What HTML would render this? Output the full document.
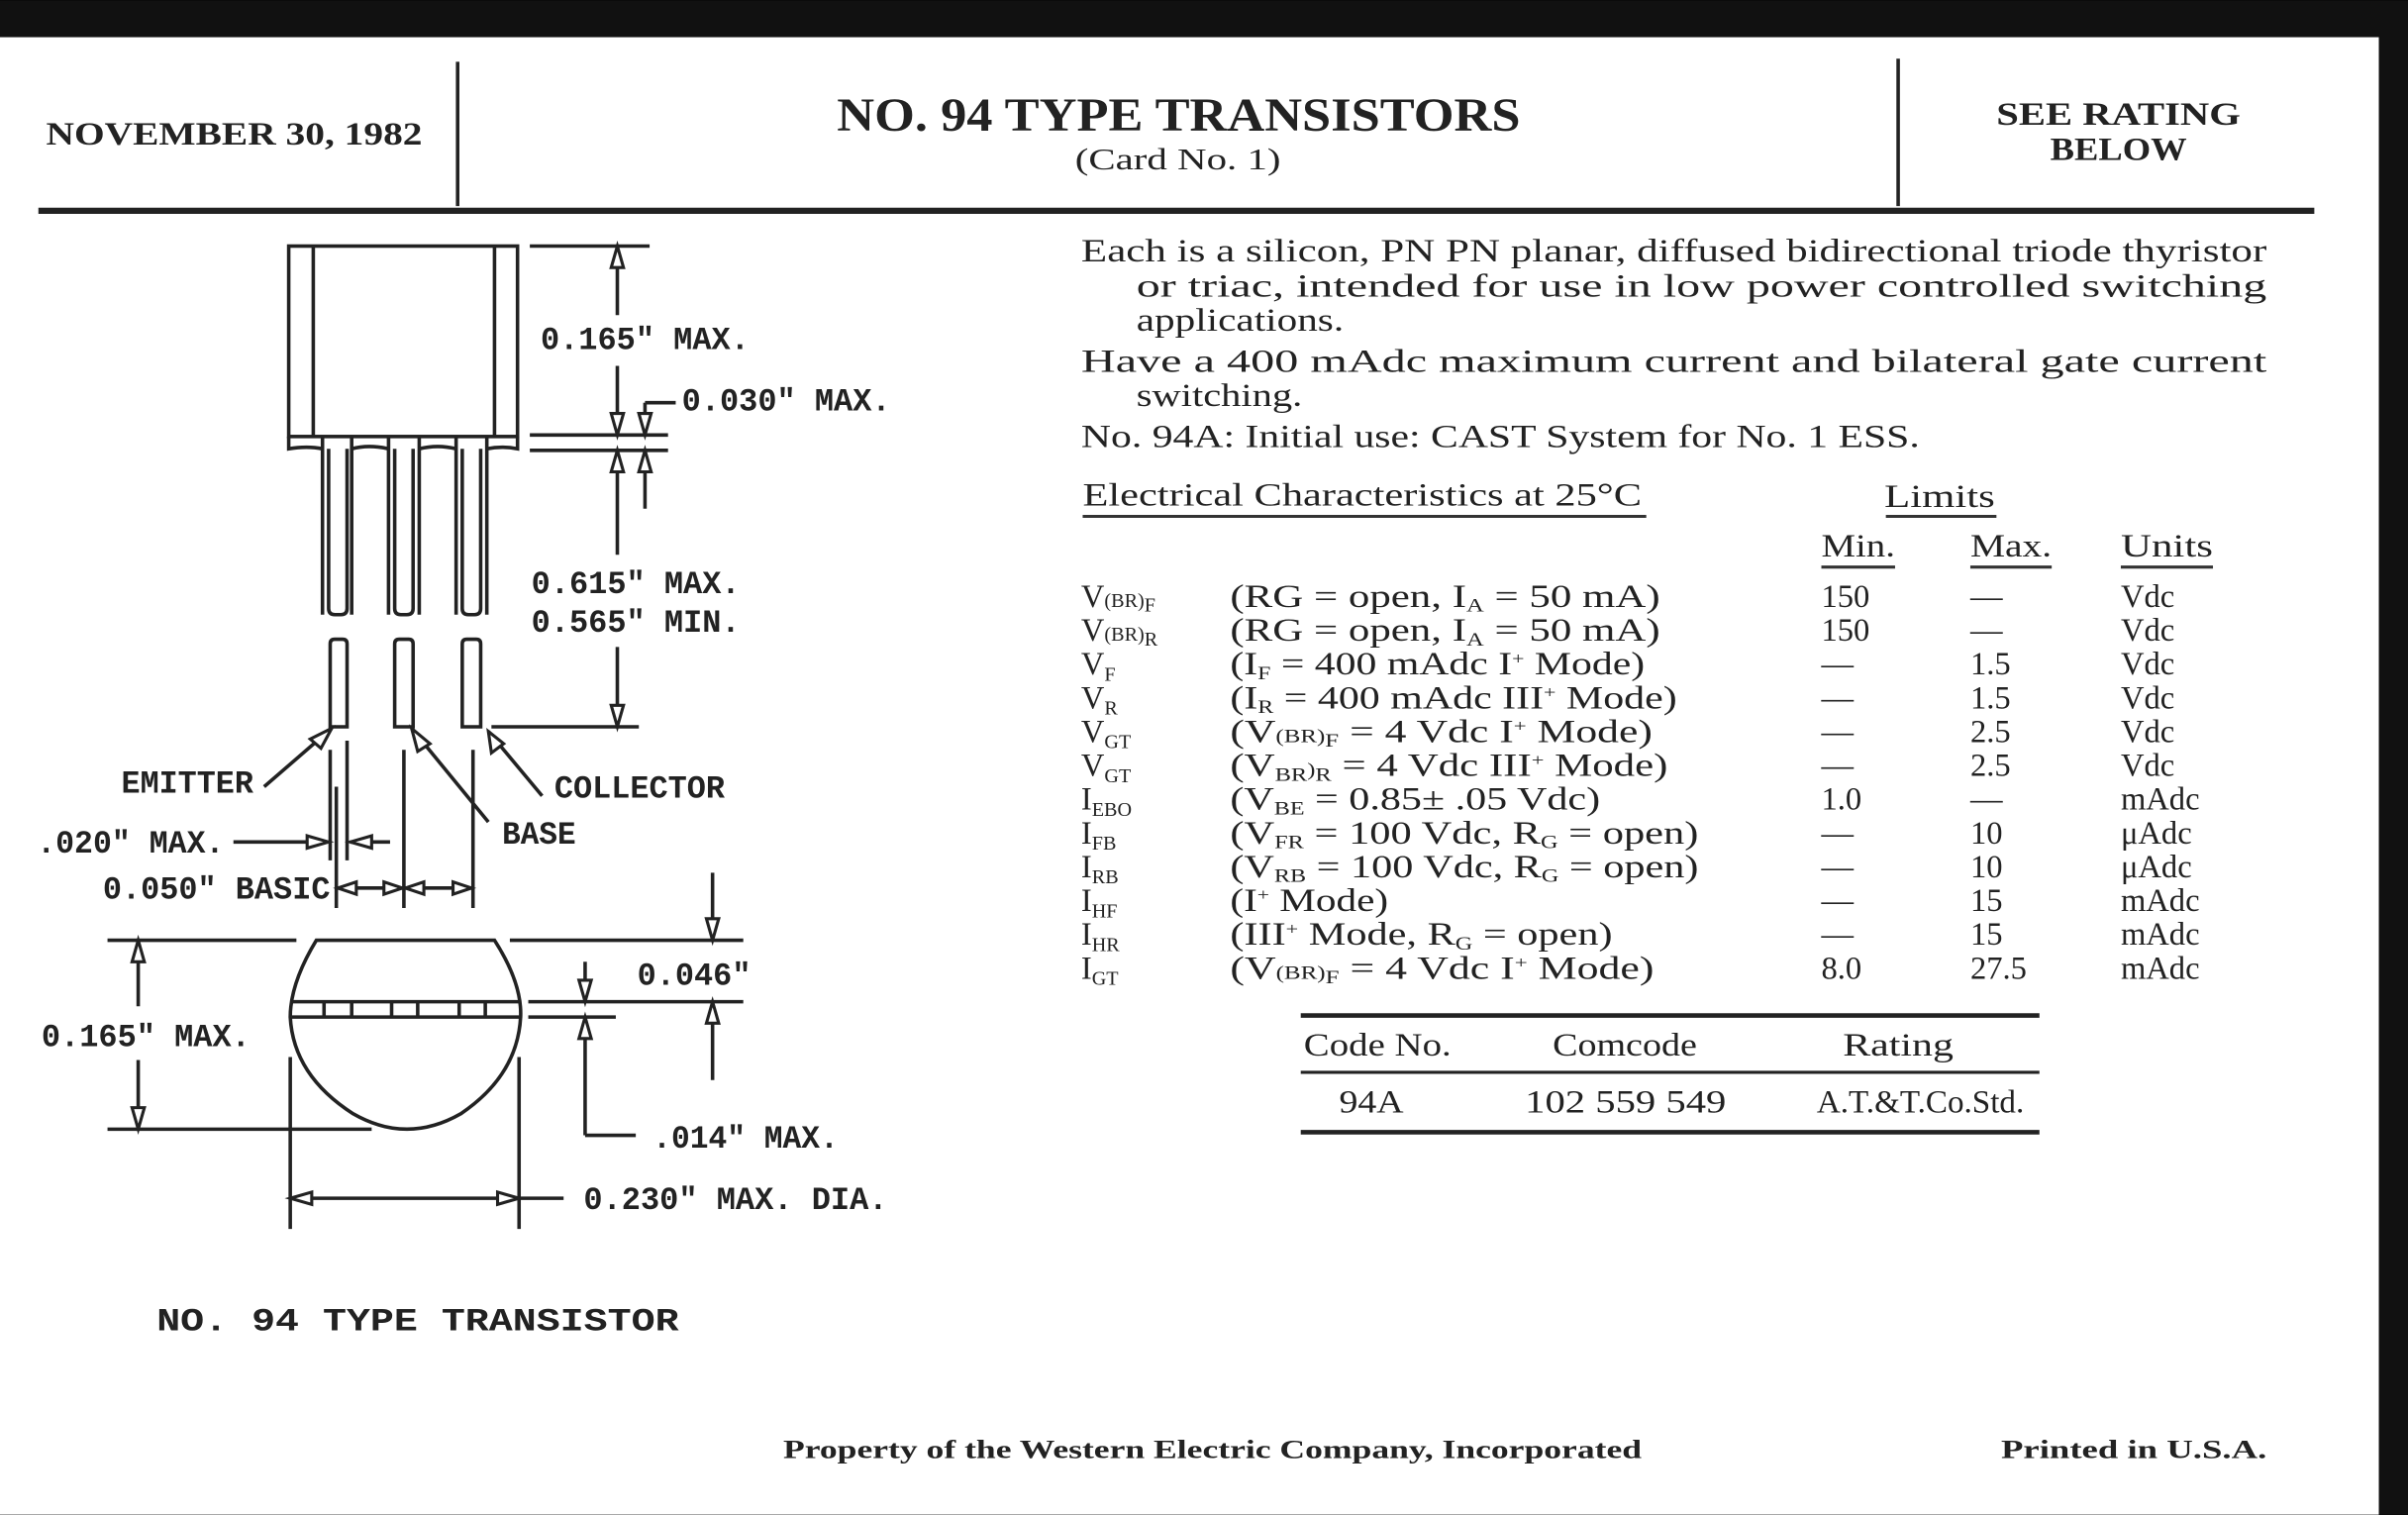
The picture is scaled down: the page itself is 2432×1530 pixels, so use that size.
<!DOCTYPE html>
<html><head><meta charset="utf-8"><style>
html,body{margin:0;padding:0;background:#000;}
svg{display:block;}
.s{font-family:"Liberation Serif",serif;fill:#222;}
.m{font-family:"Liberation Mono",monospace;fill:#222;font-size:21px;font-weight:bold;}
.ln{stroke:#222;stroke-width:2.3;fill:none;}
.ah{fill:#fff;stroke:#222;stroke-width:2;}
</style></head><body>
<svg width="2432" height="1530" viewBox="0 0 1568 986" xmlns="http://www.w3.org/2000/svg">
<rect x="0" y="0" width="1568" height="986" fill="#111"/>
<rect x="0" y="24" width="1549" height="962" fill="#fff"/>

<line x1="298" y1="40" x2="298" y2="134" class="ln" stroke-width="3"/>
<line x1="1236" y1="38" x2="1236" y2="134" class="ln" stroke-width="3"/>
<line x1="25" y1="137" x2="1507" y2="137" stroke="#222" stroke-width="4"/>
<text x="30" y="94" class="s" font-size="21" font-weight="bold" textLength="245" lengthAdjust="spacingAndGlyphs">NOVEMBER 30, 1982</text>
<text x="545" y="85" class="s" font-size="31" font-weight="bold" textLength="445" lengthAdjust="spacingAndGlyphs">NO. 94 TYPE TRANSISTORS</text>
<text x="700" y="110" class="s" font-size="20" textLength="134" lengthAdjust="spacingAndGlyphs">(Card No. 1)</text>
<text x="1300" y="81" class="s" font-size="21" font-weight="bold" textLength="159" lengthAdjust="spacingAndGlyphs">SEE RATING</text>
<text x="1335" y="104" class="s" font-size="21" font-weight="bold" textLength="89" lengthAdjust="spacingAndGlyphs">BELOW</text>

<g class="s" font-size="21">
<text x="704" y="170" textLength="772" lengthAdjust="spacingAndGlyphs">Each is a silicon, PN PN planar, diffused bidirectional triode thyristor</text>
<text x="740" y="193" textLength="736" lengthAdjust="spacingAndGlyphs">or triac, intended for use in low power controlled switching</text>
<text x="740" y="215" textLength="135" lengthAdjust="spacingAndGlyphs">applications.</text>
<text x="704" y="242" textLength="772" lengthAdjust="spacingAndGlyphs">Have a 400 mAdc maximum current and bilateral gate current</text>
<text x="740" y="264" textLength="108" lengthAdjust="spacingAndGlyphs">switching.</text>
<text x="704" y="291" textLength="546" lengthAdjust="spacingAndGlyphs">No. 94A: Initial use: CAST System for No. 1 ESS.</text>
<text x="705" y="329" textLength="364" lengthAdjust="spacingAndGlyphs">Electrical Characteristics at 25°C</text>
<text x="1227" y="330" textLength="72" lengthAdjust="spacingAndGlyphs">Limits</text>
<text x="1186" y="362" textLength="48" lengthAdjust="spacingAndGlyphs">Min.</text>
<text x="1283" y="362" textLength="53" lengthAdjust="spacingAndGlyphs">Max.</text>
<text x="1381" y="362" textLength="60" lengthAdjust="spacingAndGlyphs">Units</text>
</g>
<g stroke="#333" stroke-width="2">
<line x1="705" y1="336" x2="1072" y2="336"/>
<line x1="1228" y1="336" x2="1300" y2="336"/>
<line x1="1186" y1="369" x2="1234" y2="369"/>
<line x1="1283" y1="369" x2="1336" y2="369"/>
<line x1="1381" y1="369" x2="1441" y2="369"/>
</g>

<g class="s" font-size="21">
<text x="704" y="395">V<tspan font-size="13">(BR)</tspan><tspan font-size="13" dy="3">F</tspan></text>
<text x="801" y="395" textLength="280" lengthAdjust="spacingAndGlyphs">(RG = open, I<tspan font-size="12" dy="3">A</tspan><tspan dy="-3"> = 50 mA)</tspan></text>
<text x="1186" y="395">150</text><text x="1283" y="395">—</text><text x="1381" y="395">Vdc</text>

<text x="704" y="417">V<tspan font-size="13">(BR)</tspan><tspan font-size="13" dy="3">R</tspan></text>
<text x="801" y="417" textLength="280" lengthAdjust="spacingAndGlyphs">(RG = open, I<tspan font-size="12" dy="3">A</tspan><tspan dy="-3"> = 50 mA)</tspan></text>
<text x="1186" y="417">150</text><text x="1283" y="417">—</text><text x="1381" y="417">Vdc</text>

<text x="704" y="439">V<tspan font-size="13" dy="4">F</tspan></text>
<text x="801" y="439" textLength="270" lengthAdjust="spacingAndGlyphs">(I<tspan font-size="12" dy="3">F</tspan><tspan dy="-3"> = 400 mAdc I</tspan><tspan font-size="11" dy="-7">+</tspan><tspan dy="7"> Mode)</tspan></text>
<text x="1186" y="439">—</text><text x="1283" y="439">1.5</text><text x="1381" y="439">Vdc</text>

<text x="704" y="461">V<tspan font-size="13" dy="4">R</tspan></text>
<text x="801" y="461" textLength="291" lengthAdjust="spacingAndGlyphs">(I<tspan font-size="12" dy="3">R</tspan><tspan dy="-3"> = 400 mAdc III</tspan><tspan font-size="11" dy="-7">+</tspan><tspan dy="7"> Mode)</tspan></text>
<text x="1186" y="461">—</text><text x="1283" y="461">1.5</text><text x="1381" y="461">Vdc</text>

<text x="704" y="483">V<tspan font-size="13" dy="4">GT</tspan></text>
<text x="801" y="483" textLength="275" lengthAdjust="spacingAndGlyphs">(V<tspan font-size="12">(BR)</tspan><tspan font-size="12" dy="3">F</tspan><tspan dy="-3"> = 4 Vdc I</tspan><tspan font-size="11" dy="-7">+</tspan><tspan dy="7"> Mode)</tspan></text>
<text x="1186" y="483">—</text><text x="1283" y="483">2.5</text><text x="1381" y="483">Vdc</text>

<text x="704" y="505">V<tspan font-size="13" dy="4">GT</tspan></text>
<text x="801" y="505" textLength="285" lengthAdjust="spacingAndGlyphs">(V<tspan font-size="12" dy="3">BR</tspan><tspan font-size="12" dy="-3">)</tspan><tspan font-size="12" dy="3">R</tspan><tspan dy="-3"> = 4 Vdc III</tspan><tspan font-size="11" dy="-7">+</tspan><tspan dy="7"> Mode)</tspan></text>
<text x="1186" y="505">—</text><text x="1283" y="505">2.5</text><text x="1381" y="505">Vdc</text>

<text x="704" y="527">I<tspan font-size="13" dy="4">EBO</tspan></text>
<text x="801" y="527" textLength="241" lengthAdjust="spacingAndGlyphs">(V<tspan font-size="12" dy="3">BE</tspan><tspan dy="-3"> = 0.85± .05 Vdc)</tspan></text>
<text x="1186" y="527">1.0</text><text x="1283" y="527">—</text><text x="1381" y="527">mAdc</text>

<text x="704" y="549">I<tspan font-size="13" dy="4">FB</tspan></text>
<text x="801" y="549" textLength="305" lengthAdjust="spacingAndGlyphs">(V<tspan font-size="12" dy="3">FR</tspan><tspan dy="-3"> = 100 Vdc, R</tspan><tspan font-size="12" dy="3">G</tspan><tspan dy="-3"> = open)</tspan></text>
<text x="1186" y="549">—</text><text x="1283" y="549">10</text><text x="1381" y="549">μAdc</text>

<text x="704" y="571">I<tspan font-size="13" dy="4">RB</tspan></text>
<text x="801" y="571" textLength="305" lengthAdjust="spacingAndGlyphs">(V<tspan font-size="12" dy="3">RB</tspan><tspan dy="-3"> = 100 Vdc, R</tspan><tspan font-size="12" dy="3">G</tspan><tspan dy="-3"> = open)</tspan></text>
<text x="1186" y="571">—</text><text x="1283" y="571">10</text><text x="1381" y="571">μAdc</text>

<text x="704" y="593">I<tspan font-size="13" dy="4">HF</tspan></text>
<text x="801" y="593" textLength="103" lengthAdjust="spacingAndGlyphs">(I<tspan font-size="11" dy="-7">+</tspan><tspan dy="7"> Mode)</tspan></text>
<text x="1186" y="593">—</text><text x="1283" y="593">15</text><text x="1381" y="593">mAdc</text>

<text x="704" y="615">I<tspan font-size="13" dy="4">HR</tspan></text>
<text x="801" y="615" textLength="249" lengthAdjust="spacingAndGlyphs">(III<tspan font-size="11" dy="-7">+</tspan><tspan dy="7"> Mode, R</tspan><tspan font-size="12" dy="3">G</tspan><tspan dy="-3"> = open)</tspan></text>
<text x="1186" y="615">—</text><text x="1283" y="615">15</text><text x="1381" y="615">mAdc</text>

<text x="704" y="637">I<tspan font-size="13" dy="4">GT</tspan></text>
<text x="801" y="637" textLength="276" lengthAdjust="spacingAndGlyphs">(V<tspan font-size="12">(BR)</tspan><tspan font-size="12" dy="3">F</tspan><tspan dy="-3"> = 4 Vdc I</tspan><tspan font-size="11" dy="-7">+</tspan><tspan dy="7"> Mode)</tspan></text>
<text x="1186" y="637">8.0</text><text x="1283" y="637">27.5</text><text x="1381" y="637">mAdc</text>
</g>

<line x1="847" y1="661" x2="1328" y2="661" stroke="#222" stroke-width="3"/>
<line x1="847" y1="698" x2="1328" y2="698" stroke="#222" stroke-width="2"/>
<line x1="847" y1="737" x2="1328" y2="737" stroke="#222" stroke-width="3"/>
<g class="s" font-size="21">
<text x="849" y="687" textLength="96" lengthAdjust="spacingAndGlyphs">Code No.</text>
<text x="1011" y="687" textLength="94" lengthAdjust="spacingAndGlyphs">Comcode</text>
<text x="1200" y="687" textLength="72" lengthAdjust="spacingAndGlyphs">Rating</text>
<text x="872" y="724" textLength="42" lengthAdjust="spacingAndGlyphs">94A</text>
<text x="993" y="724" textLength="131" lengthAdjust="spacingAndGlyphs">102 559 549</text>
<text x="1183" y="724" textLength="135" lengthAdjust="spacingAndGlyphs">A.T.&amp;T.Co.Std.</text>
</g>

<text x="510" y="949" class="s" font-size="17" font-weight="bold" textLength="559" lengthAdjust="spacingAndGlyphs">Property of the Western Electric Company, Incorporated</text>
<text x="1303" y="949" class="s" font-size="17" font-weight="bold" textLength="173" lengthAdjust="spacingAndGlyphs">Printed in U.S.A.</text>
<text x="102" y="866" class="m" font-size="27" textLength="340" lengthAdjust="spacingAndGlyphs">NO. 94 TYPE TRANSISTOR</text>

<g class="ln">
<rect x="188" y="160" width="149" height="124"/>
<line x1="204" y1="160" x2="204" y2="284"/>
<line x1="322" y1="160" x2="322" y2="284"/>
<path d="M188 284 L188 292 Q200 290 210 292 M229 292 Q240 289 253 292 M273 292 Q285 289 297 292 M317 292 Q327 290 337 292 L337 284"/>
<path d="M210 284 V400 M229 284 V400"/>
<path d="M214 292 V396 Q214 400 218 400 H222 Q226 400 226 396 V292"/>
<path d="M253 284 V400 M273 284 V400"/>
<path d="M257 292 V396 Q257 400 261 400 H265 Q269 400 269 396 V292"/>
<path d="M297 284 V400 M317 284 V400"/>
<path d="M301 292 V396 Q301 400 305 400 H309 Q313 400 313 396 V292"/>
<path d="M215 473 V419 Q215 416 218 416 H223 Q226 416 226 419 V473 Z"/>
<path d="M257 473 V419 Q257 416 260 416 H266 Q269 416 269 419 V473 Z"/>
<path d="M301 473 V419 Q301 416 304 416 H310 Q313 416 313 419 V473 Z"/>
<line x1="345" y1="160" x2="423" y2="160"/>
<line x1="345" y1="283" x2="435" y2="283"/>
<line x1="345" y1="293" x2="435" y2="293"/>
<line x1="402" y1="160" x2="402" y2="205"/>
<line x1="402" y1="238" x2="402" y2="283"/>
<line x1="420" y1="283" x2="420" y2="262"/><line x1="420" y1="262" x2="440" y2="262"/>
<line x1="402" y1="293" x2="402" y2="361"/>
<line x1="420" y1="293" x2="420" y2="331"/>
<line x1="402" y1="421" x2="402" y2="473"/>
<line x1="320" y1="473" x2="416" y2="473"/>
<line x1="172" y1="512" x2="216" y2="474"/>
<line x1="318" y1="535" x2="268" y2="474"/>
<line x1="353" y1="518" x2="318" y2="476"/>
<line x1="215" y1="488" x2="215" y2="560"/>
<line x1="219" y1="512" x2="219" y2="591"/>
<line x1="226" y1="482" x2="226" y2="560"/>
<line x1="263" y1="488" x2="263" y2="591"/>
<line x1="308" y1="488" x2="308" y2="591"/>
<line x1="152" y1="548" x2="212" y2="548"/>
<line x1="228" y1="548" x2="254" y2="548"/>
<line x1="219" y1="578" x2="308" y2="578"/>
</g>
<g class="ah">
<polygon points="402,160 398,174 406,174"/>
<polygon points="402,283 398,269 406,269"/>
<polygon points="420,283 416,269 424,269"/>
<polygon points="402,293 398,307 406,307"/>
<polygon points="420,293 416,307 424,307"/>
<polygon points="402,473 398,459 406,459"/>
<polygon points="216,474 202,481 209,487"/>
<polygon points="268,474 272,489 280,484"/>
<polygon points="318,476 320,490 328,484"/>
<polygon points="214,548 200,544 200,552"/>
<polygon points="228,548 242,544 242,552"/>
<polygon points="220,578 232,574 232,582"/>
<polygon points="262,578 250,574 250,582"/>
<polygon points="264,578 276,574 276,582"/>
<polygon points="307,578 295,574 295,582"/>
</g>
<g class="m">
<text x="352" y="227" textLength="136" lengthAdjust="spacingAndGlyphs">0.165" MAX.</text>
<text x="444" y="267" textLength="136" lengthAdjust="spacingAndGlyphs">0.030" MAX.</text>
<text x="346" y="386" textLength="136" lengthAdjust="spacingAndGlyphs">0.615" MAX.</text>
<text x="346" y="411" textLength="136" lengthAdjust="spacingAndGlyphs">0.565" MIN.</text>
<text x="79" y="516" textLength="86" lengthAdjust="spacingAndGlyphs">EMITTER</text>
<text x="361" y="519" textLength="111" lengthAdjust="spacingAndGlyphs">COLLECTOR</text>
<text x="327" y="549" textLength="48" lengthAdjust="spacingAndGlyphs">BASE</text>
<text x="24" y="555" textLength="122" lengthAdjust="spacingAndGlyphs">.020" MAX.</text>
<text x="67" y="585" textLength="148" lengthAdjust="spacingAndGlyphs">0.050" BASIC</text>
</g>

<g class="ln">
<path d="M206 612 H322 Q340 640 339 662 Q337 700 300 725 Q265 745 230 725 Q191 700 189 662 Q189 640 206 612 Z"/>
<line x1="190" y1="652" x2="338" y2="652"/>
<line x1="190" y1="662" x2="338" y2="662"/>
<path d="M211 652 V662 M229 652 V662 M255 652 V662 M272 652 V662 M299 652 V662 M316 652 V662"/>
<line x1="70" y1="612" x2="193" y2="612"/>
<line x1="332" y1="612" x2="484" y2="612"/>
<line x1="70" y1="735" x2="242" y2="735"/>
<line x1="344" y1="652" x2="484" y2="652"/>
<line x1="344" y1="662" x2="401" y2="662"/>
<line x1="464" y1="568" x2="464" y2="612"/>
<line x1="464" y1="652" x2="464" y2="703"/>
<line x1="381" y1="626" x2="381" y2="652"/>
<line x1="381" y1="662" x2="381" y2="739"/><line x1="381" y1="739" x2="414" y2="739"/>
<line x1="90" y1="612" x2="90" y2="655"/>
<line x1="90" y1="690" x2="90" y2="735"/>
<line x1="189" y1="688" x2="189" y2="800"/>
<line x1="338" y1="688" x2="338" y2="800"/>
<line x1="189" y1="780" x2="367" y2="780"/>
</g>
<g class="ah">
<polygon points="464,612 460,598 468,598"/>
<polygon points="464,652 460,666 468,666"/>
<polygon points="381,652 377,638 385,638"/>
<polygon points="381,662 377,676 385,676"/>
<polygon points="90,612 86,626 94,626"/>
<polygon points="90,735 86,721 94,721"/>
<polygon points="189,780 203,776 203,784"/>
<polygon points="338,780 324,776 324,784"/>
</g>
<g class="m">
<text x="415" y="641" textLength="74" lengthAdjust="spacingAndGlyphs">0.046"</text>
<text x="27" y="681" textLength="136" lengthAdjust="spacingAndGlyphs">0.165" MAX.</text>
<text x="425" y="747" textLength="121" lengthAdjust="spacingAndGlyphs">.014" MAX.</text>
<text x="380" y="787" textLength="198" lengthAdjust="spacingAndGlyphs">0.230" MAX. DIA.</text>
</g>
</svg>
</body></html>
